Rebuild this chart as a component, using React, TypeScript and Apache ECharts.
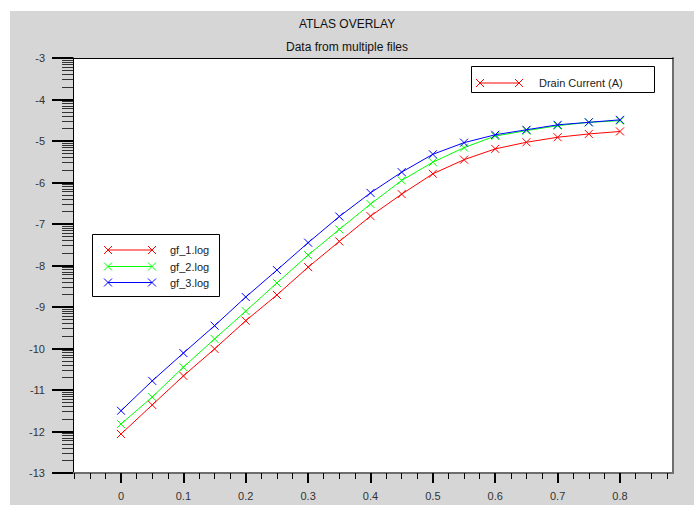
import React, { useEffect, useRef } from 'react';
import * as echarts from 'echarts';

// ---- data ----
const xValues = [0, 0.05, 0.1, 0.15, 0.2, 0.25, 0.3, 0.35, 0.4, 0.45, 0.5, 0.55, 0.6, 0.65, 0.7, 0.75, 0.8];
const gf1 = [-12.06, -11.36, -10.66, -10.01, -9.33, -8.71, -8.04, -7.42, -6.81, -6.28, -5.79, -5.45, -5.19, -5.03, -4.91, -4.83, -4.77];
const gf2 = [-11.82, -11.17, -10.45, -9.77, -9.10, -8.42, -7.75, -7.13, -6.52, -5.95, -5.51, -5.16, -4.88, -4.75, -4.63, -4.55, -4.51];
const gf3 = [-11.50, -10.78, -10.11, -9.45, -8.76, -8.11, -7.45, -6.82, -6.25, -5.75, -5.32, -5.04, -4.85, -4.73, -4.61, -4.55, -4.49];
const seriesNames = ['gf_1.log', 'gf_2.log', 'gf_3.log'];
const seriesColors = ['#ff0000', '#00ff00', '#0000ff'];
const xTickLabels = [0, 0.1, 0.2, 0.3, 0.4, 0.5, 0.6, 0.7, 0.8];
const xMinorTicks = [-0.075, -0.05, -0.025, 0.025, 0.05, 0.075, 0.125, 0.15, 0.175, 0.225, 0.25, 0.275, 0.325, 0.35, 0.375, 0.425, 0.45, 0.475, 0.525, 0.55, 0.575, 0.625, 0.65, 0.675, 0.725, 0.75, 0.775, 0.825, 0.85, 0.875];
const yDecades = [-13, -12, -11, -10, -9, -8, -7, -6, -5, -4];
const titleText = 'ATLAS OVERLAY';
const subtitleText = 'Data from multiple files';
const quantityLabel = 'Drain Current (A)';

const X_MIN = -0.077;
const X_MAX = 0.885;
const Y_MIN = -13;
const Y_MAX = -3;

// log-style minor ticks within each decade
const yMinorTicks: number[] = [];
yDecades.forEach((d) => {
  for (let k = 2; k <= 9; k++) yMinorTicks.push(d + Math.log10(k));
});

const FONT = 'Liberation Sans, Arial, sans-serif';
const CROSS = 'path://M0,0L10,10M10,0L0,10';

function cross(cx: number, cy: number, color: string, h = 4) {
  return [
    { type: 'line', silent: true, z: 101, shape: { x1: cx - h, y1: cy - h, x2: cx + h, y2: cy + h }, style: { stroke: color, lineWidth: 1 } },
    { type: 'line', silent: true, z: 101, shape: { x1: cx - h, y1: cy + h, x2: cx + h, y2: cy - h }, style: { stroke: color, lineWidth: 1 } },
  ];
}

function legendEntry(x1: number, x2: number, y: number, color: string) {
  return [
    { type: 'line', silent: true, z: 101, shape: { x1, y1: y, x2, y2: y }, style: { stroke: color, lineWidth: 1 } },
    ...cross(x1, y, color),
    ...cross(x2, y, color),
  ];
}

export default function App() {
  const ref = useRef<HTMLDivElement>(null);

  useEffect(() => {
    if (!ref.current) return;
    const chart = echarts.init(ref.current, null, { renderer: 'svg' });

    const gfRows = [250, 266.5, 282.5];
    const graphic: any[] = [
      { type: 'rect', silent: true, z: -10, shape: { x: 10, y: 11, width: 684, height: 494 }, style: { fill: '#d6d6d6' } },
      // Drain current box
      { type: 'rect', silent: true, z: 100, shape: { x: 471.5, y: 66.5, width: 183, height: 26 }, style: { fill: '#fff', stroke: '#000', lineWidth: 1 } },
      ...legendEntry(480, 519, 83, '#ff0000'),
      { type: 'text', silent: true, z: 101, style: { x: 539, y: 83, text: quantityLabel, fill: '#222', font: `11px ${FONT}`, textVerticalAlign: 'middle', verticalAlign: 'middle' } },
      // gf legend box
      { type: 'rect', silent: true, z: 100, shape: { x: 92.5, y: 234.5, width: 127, height: 62 }, style: { fill: '#fff', stroke: '#000', lineWidth: 1 } },
    ];
    seriesNames.forEach((name, i) => {
      graphic.push(...legendEntry(108, 152, gfRows[i], seriesColors[i]));
      graphic.push({ type: 'text', silent: true, z: 101, style: { x: 170, y: gfRows[i], text: name, fill: '#222', font: `11px ${FONT}`, verticalAlign: 'middle', textVerticalAlign: 'middle' } });
    });

    const seriesData = [gf1, gf2, gf3];

    const option: any = {
      animation: false,
      backgroundColor: '#ffffff',
      title: [
        { text: titleText, left: 'center', top: 13, textStyle: { fontFamily: FONT, fontSize: 12, fontWeight: 'normal', color: '#111' } },
        { text: subtitleText, left: 'center', top: 36, textStyle: { fontFamily: FONT, fontSize: 12, fontWeight: 'normal', color: '#111' } },
      ],
      grid: { left: 73, top: 58, right: 21, bottom: 32, show: true, backgroundColor: '#ffffff', borderWidth: 0 },
      xAxis: [
        {
          type: 'value', min: X_MIN, max: X_MAX, position: 'bottom',
          axisLine: { show: true, onZero: false, lineStyle: { color: '#6e6e6e', width: 2 } },
          axisTick: { show: true, customValues: xTickLabels, length: 10, lineStyle: { color: '#000', width: 2 } },
          axisLabel: { customValues: xTickLabels, margin: 17, fontFamily: FONT, fontSize: 11, color: '#333' },
          splitLine: { show: false },
        },
        {
          type: 'value', min: X_MIN, max: X_MAX, position: 'bottom',
          axisLine: { show: false, onZero: false },
          axisTick: { show: true, customValues: xMinorTicks, length: 6, lineStyle: { color: '#000', width: 1 } },
          axisLabel: { show: false },
          splitLine: { show: false },
        },
        {
          type: 'value', min: X_MIN, max: X_MAX, position: 'top',
          axisLine: { show: true, onZero: false, lineStyle: { color: '#000', width: 1 } },
          axisTick: { show: false }, axisLabel: { show: false }, splitLine: { show: false },
        },
      ],
      yAxis: [
        {
          type: 'value', min: Y_MIN, max: Y_MAX, interval: 1, position: 'left',
          axisLine: { show: true, onZero: false, lineStyle: { color: '#000', width: 1 } },
          axisTick: { show: true, length: 21, lineStyle: { color: '#000', width: 2 } },
          axisLabel: { margin: 28, fontFamily: FONT, fontSize: 11, color: '#333' },
          splitLine: { show: false },
        },
        {
          type: 'value', min: Y_MIN, max: Y_MAX, position: 'left',
          axisLine: { show: false, onZero: false },
          axisTick: { show: true, customValues: yMinorTicks, length: 11, lineStyle: { color: '#333', width: 1 } },
          axisLabel: { show: false }, splitLine: { show: false },
        },
        {
          type: 'value', min: Y_MIN, max: Y_MAX, position: 'right',
          axisLine: { show: true, onZero: false, lineStyle: { color: '#6e6e6e', width: 2 } },
          axisTick: { show: false }, axisLabel: { show: false }, splitLine: { show: false },
        },
      ],
      series: seriesNames.map((name, i) => ({
        name,
        type: 'line',
        xAxisIndex: 0,
        yAxisIndex: 0,
        data: xValues.map((x, j) => [x, seriesData[i][j]]),
        symbol: CROSS,
        symbolSize: 8,
        showSymbol: true,
        showAllSymbol: true,
        color: seriesColors[i],
        lineStyle: { color: seriesColors[i], width: 1 },
        itemStyle: { color: 'rgba(0,0,0,0)', borderColor: seriesColors[i], borderWidth: 1 },
        emphasis: { disabled: true },
        z: 3 + i,
      })),
      graphic,
    };

    chart.setOption(option);
    return () => chart.dispose();
  }, []);

  return <div ref={ref} style={{ position: 'absolute', left: 0, top: 0, width: 694, height: 505 }} />;
}
